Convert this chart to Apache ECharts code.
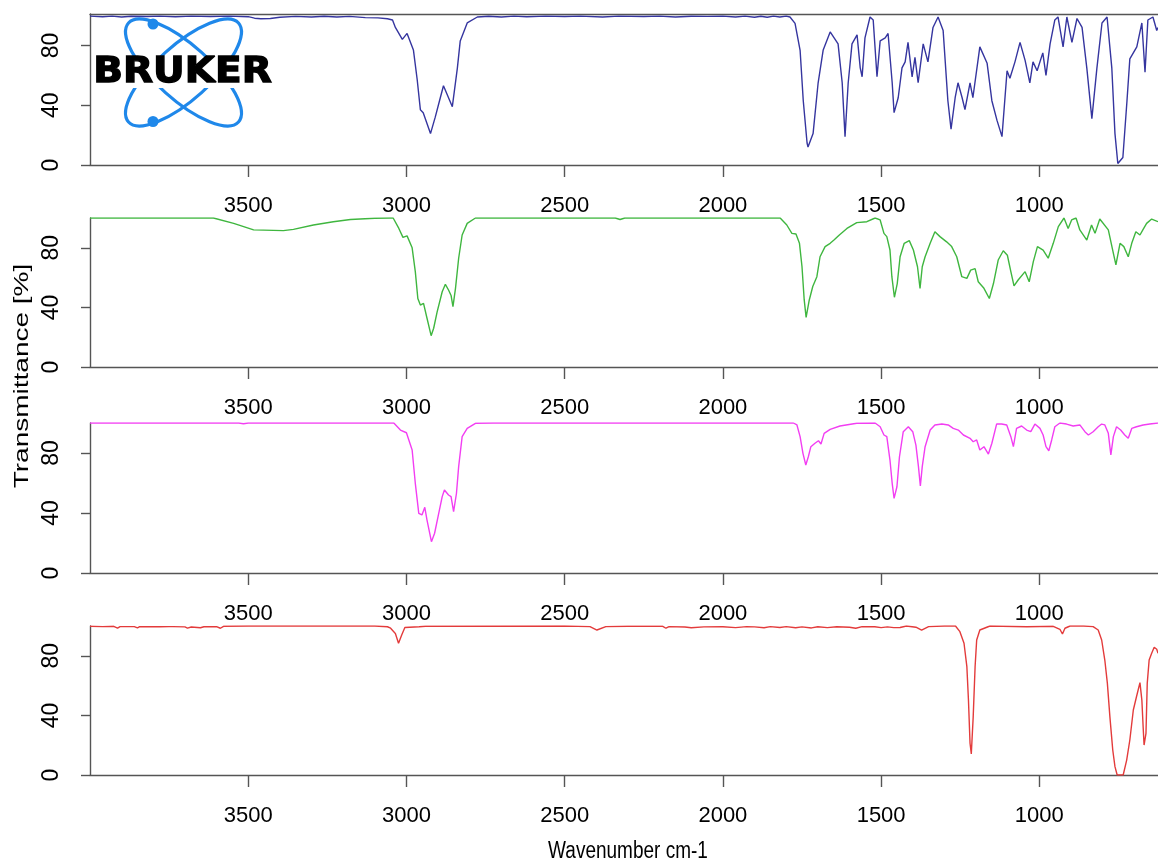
<!DOCTYPE html>
<html>
<head>
<meta charset="utf-8">
<title>FT-IR spectra</title>
<script src="https://cdn.jsdelivr.net/npm/echarts@6/dist/echarts.min.js"></script>
<style>
  html, body { margin: 0; padding: 0; background: #ffffff; }
  #chart { width: 1158px; height: 862px; }
</style>
</head>
<body>
<div id="chart"></div>
<script>
// Wavenumber tick labels (cm-1) and transmittance ticks (%)
const wavenumberTicks = [1000, 1500, 2000, 2500, 3000, 3500];
const transmittanceTicks = [0, 40, 80];

// Spectrum 1 (blue)
const wnBlue = [4000,3960,3930,3900,3870,3820,3780,3730,3680,3620,3560,3500,3480,3460,3430,3400,3350,3300,3260,3220,3180,3130,3090,3060,3044,3035,3013,2998,2978,2966,2956,2947,2924,2909,2893,2883,2855,2839,2830,2808,2776,2740,2700,2660,2620,2560,2500,2450,2380,2330,2250,2200,2150,2100,2050,2000,1960,1930,1900,1880,1860,1840,1820,1800,1788,1772,1756,1746,1734,1731,1715,1699,1683,1661,1636,1623,1614,1604,1592,1576,1566,1560,1551,1535,1525,1513,1503,1487,1478,1465,1459,1446,1434,1424,1415,1402,1393,1383,1367,1352,1336,1320,1304,1289,1279,1266,1257,1244,1235,1219,1210,1188,1165,1150,1134,1118,1102,1093,1077,1061,1045,1030,1020,1007,989,979,966,951,941,925,913,897,881,865,850,834,818,802,786,771,761,752,736,723,714,692,676,666,657,641,629,625];
const tBlue = [99.6,99.2,99.6,99.0,99.5,99.3,99.6,99.2,99.6,99.3,99.6,99.2,98.2,97.8,98.0,98.8,99.4,99.0,99.5,99.0,99.4,98.6,98.4,97.8,97,92,84,88,77,57,37,35,21,32,45,53,39,65,83,95,99,99.5,99.0,99.6,99.2,99.6,99.3,99.6,99.0,99.6,99.3,99.6,99.0,99.5,99.4,99.6,99.0,99.6,98.8,99.5,98.8,99.6,99.0,99.6,99,94.7,76.7,43,14.7,12,21,55,77,89,81,55,19,55,81,87,65,59,85,99,97,59,83,85,88,55,35,45,65,69,82,59,72,55,81,69,92,99,90,43,24,45,55,45,37,55,45,79,68,43,30,19,63,58,69,82,70,55,69,63,75,60,81,97,99,79,99,82,98,92,65,31,65,95,99,65,21,1,5,43,71,79,95,62,97,99,90,92];

// Spectrum 2 (green)
const wnGreen = [4000,3800,3610,3546,3483,3389,3357,3294,3231,3177,3100,3051,3042,3024,3011,2998,2982,2972,2964,2956,2946,2935,2922,2914,2903,2887,2877,2867,2859,2853,2845,2835,2824,2808,2782,2340,2325,2310,1819,1798,1782,1769,1758,1750,1743,1737,1727,1716,1703,1693,1677,1661,1649,1632,1608,1577,1545,1519,1503,1491,1482,1472,1466,1458,1449,1440,1427,1411,1398,1385,1377,1370,1361,1345,1330,1314,1293,1277,1261,1245,1229,1217,1203,1193,1175,1158,1145,1130,1114,1101,1090,1080,1067,1045,1032,1019,1006,988,972,956,940,922,909,898,884,872,850,835,824,809,782,766,758,745,733,719,708,695,682,672,661,645,625];
const tGreen = [100,100,100,96.4,92,91.5,92.4,95.3,97.5,99,99.8,100,100,93,87,88,80,64,46,41.6,42.7,32.7,21,26,37,50.5,55.5,51.7,48,40.5,52.8,73,88.6,96.4,100,100,99,100,100,95.3,89.7,89.3,83,67.3,45,33.3,45,54,60.6,74,80.8,83,85.2,88.6,93,96.9,97.5,100,98.7,89.7,87.5,78.5,60.6,46.8,56,74,83,84.8,78.5,67.3,52.8,67.3,74,83,90.8,87.5,84,80.8,74,60.6,59.5,65,66,57.2,52.8,46,56,71.8,78,75,64,54.4,58.4,64,57.2,70.7,80.8,78.5,73,83,94.2,100,93,98.7,100,92,85.2,95.3,89.7,99.3,92,76.3,68.5,83,80.8,74,83,90.8,88.6,92.4,96.4,99.3,97.5];

// Spectrum 3 (magenta)
const wnMagenta = [4000,3530,3515,3500,3040,3019,3000,2982,2972,2961,2951,2942,2935,2921,2911,2898,2887,2880,2867,2859,2851,2842,2835,2824,2808,2782,2725,2719,2712,2356,2350,2344,1977,1971,1965,1777,1766,1756,1747,1738,1730,1722,1709,1698,1690,1680,1661,1630,1577,1519,1503,1491,1482,1472,1465,1459,1450,1442,1430,1414,1400,1390,1382,1376,1370,1361,1345,1330,1308,1288,1272,1256,1240,1219,1209,1198,1188,1175,1161,1150,1135,1119,1103,1090,1082,1072,1056,1040,1027,1014,998,988,979,970,961,951,935,914,893,872,856,845,830,814,803,793,782,774,766,756,743,730,719,708,693,672,651,625];
const tMagenta = [100,100,99.5,100,100,95.3,93.5,82,59.8,39.8,38.7,43.8,35.3,20.9,26.5,39.8,50.9,55.3,52,50.9,40.9,53,70.9,90.9,96.4,99.8,100,99,100,100,99.2,100,100,99.2,100,100,98.7,90.9,79.8,72,77.5,84.2,86.5,88.2,86,93.1,95.8,98,99.8,100,97.5,92,90.9,75.3,59.8,49.8,57.5,77.5,94.2,97.5,94.2,85.3,70.9,58,70.9,84.2,95.3,98.7,99.3,98.7,96.4,95.3,92,89.8,87.5,88.7,82,84.2,79.3,86.5,99.3,99.3,98.7,90.9,84.2,96.4,98,95.3,94.2,99.3,96.4,92,84.2,81.5,88.7,97.5,100,99.3,98,98.7,94.2,92,94.2,97.5,99.3,98.7,93.1,78.7,90.9,97.5,95.3,92,89.8,96.4,97.5,98.7,99.3,100];

// Spectrum 4 (red)
const wnRed = [4000,3960,3925,3913,3905,3860,3850,3843,3780,3750,3745,3738,3700,3692,3680,3651,3640,3600,3588,3578,3500,3100,3060,3050,3035,3025,3015,3005,2960,2940,2500,2420,2398,2370,2300,2190,2180,2170,2120,2100,2060,2000,1960,1925,1900,1870,1850,1820,1800,1770,1750,1720,1700,1670,1640,1600,1580,1560,1520,1500,1480,1460,1440,1420,1390,1372,1350,1300,1265,1251,1238,1229,1224,1219,1215,1209,1203,1198,1188,1156,1040,956,935,927,919,903,860,830,814,803,793,785,777,768,761,754,735,724,714,703,693,682,676,672,669,663,659,653,645,637,629,625];
const tRed = [99.8,99.6,99.8,98.6,99.6,99.6,98.8,99.6,99.5,99.6,98.6,99.6,99.4,98.6,99.3,98.8,99.5,99.6,98.5,99.8,100,100,99.5,98.5,95,88.4,94,99,99.5,99.8,100,99.6,97.3,99.6,99.8,99.8,98.5,99.6,99.3,98.8,99.4,99.5,98.9,99.6,99.4,98.8,99.6,99.0,99.6,98.8,99.4,98.7,99.5,98.9,99.5,99.2,98.5,99.6,99.5,98.9,99.4,98.9,99.0,100,99.2,97.3,99.6,100,100,96.2,88.4,72.7,50.3,21.3,14.1,39,72.7,90.6,97.3,100,99.5,99.8,97.8,94.6,98.5,100,100,99.6,97.3,90.6,77,61.5,39,16.8,5.6,0,0,10,23.5,43.6,52.5,62,50.3,32.4,20.1,28,61.5,77.2,81.7,85.7,84.4,81.7];

const spectra = [
  { wn: wnBlue,    t: tBlue,    color: '#35359f', top: 14,  height: 151, yMax: 101 },
  { wn: wnGreen,   t: tGreen,   color: '#3fb63f', top: 218, height: 149, yMax: 100 },
  { wn: wnMagenta, t: tMagenta, color: '#f23ef2', top: 423, height: 150, yMax: 100 },
  { wn: wnRed,     t: tRed,     color: '#e33b3b', top: 626, height: 149, yMax: 100 }
];

const AXIS_COLOR = '#555555';
const TEXT_COLOR = '#000000';
const FONT = '"Liberation Sans", Arial, sans-serif';
const plain = v => String(Math.round(v));

const grids = [], xAxes = [], yAxes = [], series = [];
spectra.forEach((s, i) => {
  grids.push({ left: 90, right: 0, top: s.top, height: s.height, containLabel: false });
  xAxes.push({
    type: 'value', gridIndex: i, min: 625, max: 4000, inverse: true,
    axisLine: { show: true, onZero: false, lineStyle: { color: AXIS_COLOR, width: 1.4 } },
    axisTick: { show: true, length: 12, customValues: wavenumberTicks, lineStyle: { color: AXIS_COLOR, width: 1.4 } },
    axisLabel: { show: true, customValues: wavenumberTicks, formatter: plain, margin: 30, fontSize: 22,
                 color: TEXT_COLOR, fontFamily: FONT },
    splitLine: { show: false }
  });
  yAxes.push({
    type: 'value', gridIndex: i, min: 0, max: s.yMax,
    axisLine: { show: true, lineStyle: { color: AXIS_COLOR, width: 1.4 } },
    axisTick: { show: true, length: 9, customValues: transmittanceTicks, lineStyle: { color: AXIS_COLOR, width: 1.4 } },
    axisLabel: { show: true, customValues: transmittanceTicks, formatter: plain, rotate: 90, margin: 27, fontSize: 23,
                 color: TEXT_COLOR, fontFamily: FONT },
    splitLine: { show: false }
  });
  series.push({
    type: 'line', xAxisIndex: i, yAxisIndex: i,
    data: s.wn.map((w, k) => [w, s.t[k]]),
    showSymbol: false, symbol: 'none', smooth: false,
    lineStyle: { color: s.color, width: 1.4 },
    itemStyle: { color: s.color },
    animation: false
  });
});

// frame line along the top of the first panel
xAxes.push({
  type: 'value', gridIndex: 0, min: 625, max: 4000, inverse: true, position: 'top',
  axisLine: { show: true, onZero: false, lineStyle: { color: AXIS_COLOR, width: 1.4 } },
  axisTick: { show: false }, axisLabel: { show: false }, splitLine: { show: false }
});

// Bruker logo: two crossing orbits with electrons and the word mark
const LOGO_BLUE = '#1f88ea';
const orbitTilt = 42 * Math.PI / 180;
const logo = {
  type: 'group', x: 183.5, y: 72.5, z: 20,
  children: [
    { type: 'ellipse', rotation: -orbitTilt, shape: { cx: 0, cy: 0, rx: 74, ry: 27 },
      style: { fill: 'none', stroke: LOGO_BLUE, lineWidth: 3.2 }, z: 20 },
    { type: 'ellipse', rotation: orbitTilt, shape: { cx: 0, cy: 0, rx: 74, ry: 27 },
      style: { fill: 'none', stroke: LOGO_BLUE, lineWidth: 3.2 }, z: 20 },
    { type: 'circle', shape: { cx: -30.5, cy: -48.5, r: 5.5 }, style: { fill: LOGO_BLUE }, z: 21 },
    { type: 'circle', shape: { cx: -30.5, cy: 49, r: 5.5 }, style: { fill: LOGO_BLUE }, z: 21 },
    { type: 'rect', shape: { x: -91, y: -14.5, width: 182, height: 30 }, style: { fill: '#ffffff' }, z: 22 },
    { type: 'text', x: -1, y: 0.5, scaleX: 1.22, scaleY: 1.12, z: 23,
      style: { text: 'BRUKER', font: 'bold 32px "DejaVu Sans", sans-serif', fill: '#000000',
               stroke: '#000000', lineWidth: 1.2,
               align: 'center', verticalAlign: 'middle', textAlign: 'center', textVerticalAlign: 'middle' } }
  ]
};

const option = {
  backgroundColor: '#ffffff',
  animation: false,
  grid: grids,
  xAxis: xAxes,
  yAxis: yAxes,
  series: series,
  graphic: [
    logo,
    { type: 'text', x: 22, y: 376, rotation: Math.PI / 2, scaleX: 1.4, z: 10,
      style: { text: 'Transmittance [%]', font: '20px "Liberation Sans", Arial, sans-serif', fill: TEXT_COLOR,
               align: 'center', verticalAlign: 'middle', textAlign: 'center', textVerticalAlign: 'middle' } },
    { type: 'text', x: 628, y: 851, scaleY: 1.3, z: 10,
      style: { text: 'Wavenumber cm-1', font: '19px "Liberation Sans", Arial, sans-serif', fill: TEXT_COLOR,
               align: 'center', verticalAlign: 'middle', textAlign: 'center', textVerticalAlign: 'middle' } }
  ]
};

const chart = echarts.init(document.getElementById('chart'), null, { renderer: 'canvas' });
chart.setOption(option);
</script>
</body>
</html>
